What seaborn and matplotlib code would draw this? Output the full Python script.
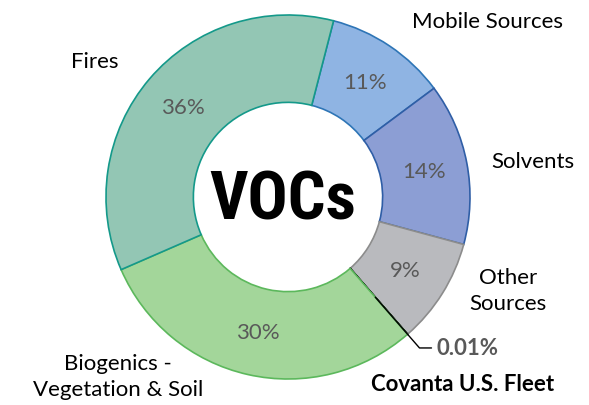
import numpy as np
import matplotlib
matplotlib.use('Agg')
import matplotlib.pyplot as plt
import seaborn as sns
from matplotlib import font_manager

# Data (clockwise from top)
sources = ['Mobile Sources', 'Solvents', 'Other\nSources', 'Covanta U.S. Fleet',
           'Biogenics -\nVegetation & Soil', 'Fires']
shares = [10.8, 14.4, 9.4, 0.01, 29.9, 35.6]
fills = ['#8fb4e3', '#8c9ed4', '#b9babe', '#404040', '#a3d69a', '#93c6b4']
edges = ['#2e75b6', '#2f5ea6', '#8c8c8c', '#000000', '#5cb85c', '#14998a']

sns.set_theme(style='white')
plt.rcParams['font.family'] = ['Lato', 'DejaVu Sans']

W, H = 589, 406
fig = plt.figure(figsize=(W / 100, H / 100), dpi=100)
ax = fig.add_axes([0, 0, 1, 1])
cx, cy, R = 288, 198, 182


def px(x, y):
    # pixel position -> axes fraction
    return x / W, 1 - y / H


wedges, _, pcts = ax.pie(
    shares, colors=fills, startangle=75.5, counterclock=False, radius=1,
    autopct=lambda p: f'{p:.0f}%' if p > 1 else '', pctdistance=0.76,
    wedgeprops=dict(width=0.48, linewidth=1.2),
    textprops=dict(color='#595959', fontsize=16))
for w, ec in zip(wedges, edges):
    w.set_edgecolor(ec)

# place the donut: centre (288, 198) px, outer radius 182 px
ax.set_xlim(-cx / R, (W - cx) / R)
ax.set_ylim(-(H - cy) / R, cy / R)
ax.set_aspect('equal')
ax.axis('off')

# centre title in a narrow face if one is around
names = {f.name for f in font_manager.fontManager.ttflist}
narrow = [n for n in ['Liberation Sans Narrow', 'DejaVu Sans Condensed', 'Roboto Condensed']
          if n in names]
ax.text(-0.027, -0.02, 'VOCs', ha='center', va='center',
        fontsize=48 if narrow else 40, fontweight='bold',
        family=narrow + ['DejaVu Sans'], stretch='condensed', color='black')

# outer labels
label_pos = {'Mobile Sources': (487, 22), 'Solvents': (533, 162),
             'Other\nSources': (508, 291), 'Biogenics -\nVegetation & Soil': (118, 377),
             'Fires': (95, 62)}
for name, (x, y) in label_pos.items():
    ax.text(*px(x, y), name, transform=ax.transAxes, ha='center', va='center',
            fontsize=16, color='black', linespacing=1.32, multialignment='center')

# leader for the tiny Covanta slice
cov = wedges[sources.index('Covanta U.S. Fleet')]
ang = np.deg2rad((cov.theta1 + cov.theta2) / 2)
r0, r1 = 0.73, 1.1
x0, y0 = r0 * np.cos(ang), r0 * np.sin(ang)
x1, y1 = r1 * np.cos(ang), r1 * np.sin(ang)
ax.plot([x0, x1, x1 + 12 / R], [y0, y1, y1], color='black', lw=1)
ax.text(x1 + 17 / R, y1, f'{shares[3]:.2f}%', ha='left', va='center',
        fontsize=16, fontweight='bold', color='#595959')
ax.text(*px(463, 385), 'Covanta U.S. Fleet', transform=ax.transAxes, ha='center',
        va='center', fontsize=16, fontweight='bold', color='black')

fig.savefig('out.png', dpi=100)
